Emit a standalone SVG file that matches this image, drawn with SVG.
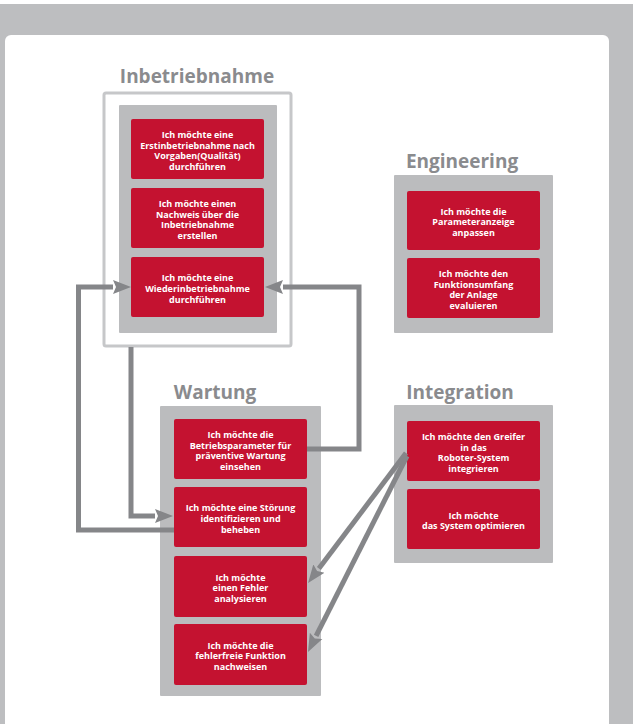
<svg xmlns="http://www.w3.org/2000/svg" width="633" height="724" viewBox="0 0 633 724">
<style>
.title{font-family:"Open Sans","Noto Sans","Liberation Sans",sans-serif;font-weight:bold;font-size:19px;fill:#8a8b8e;text-anchor:middle}
.lbl{font-family:"Open Sans","Noto Sans","Liberation Sans",sans-serif;font-weight:bold;font-size:9px;fill:#ffffff;text-anchor:middle}
.grp{fill:#bbbcbe}
.node{fill:#c41230;rx:2}
.conn{fill:none;stroke:#858689;stroke-width:5;stroke-linejoin:miter}
</style>
<defs>
<marker id="ah" markerUnits="userSpaceOnUse" markerWidth="19" markerHeight="15" refX="0" refY="7" orient="auto" viewBox="0 0 19 14">
<path d="M0,0 L18,7 L0,14 L3,7 z" fill="#858689"/>
</marker>
</defs>
<rect x="0" y="0" width="633" height="724" fill="#ffffff"/>
<rect x="0" y="4" width="633" height="720" fill="#bdbec0"/>
<rect x="5" y="35" width="604" height="700" rx="6" fill="#ffffff"/>

<g id="inbetriebnahme">
<text class="title" x="197" y="83">Inbetriebnahme</text>
<rect x="104" y="93" width="187" height="253" rx="2" fill="#ffffff" stroke="#c6c7c9" stroke-width="3"/>
<rect class="grp" x="119" y="105" width="158" height="228" rx="1"/>
</g>
<g id="inb1">
<rect class="node" x="131" y="119" width="133" height="60"/>
<text class="lbl"><tspan x="197.5" y="137.8">Ich möchte eine</tspan><tspan x="197.5" y="148.5">Erstinbetriebnahme nach</tspan><tspan x="197.5" y="159.2">Vorgaben(Qualität)</tspan><tspan x="197.5" y="169.9">durchführen</tspan></text>
</g>
<g id="inb2">
<rect class="node" x="131" y="188" width="133" height="60"/>
<text class="lbl"><tspan x="197.5" y="206.8">Ich möchte einen</tspan><tspan x="197.5" y="217.5">Nachweis über die</tspan><tspan x="197.5" y="228.2">Inbetriebnahme</tspan><tspan x="197.5" y="238.9">erstellen</tspan></text>
</g>
<g id="inb3">
<rect class="node" x="131" y="257" width="133" height="60"/>
<text class="lbl"><tspan x="197.5" y="281.1">Ich möchte eine</tspan><tspan x="197.5" y="291.8">Wiederinbetriebnahme</tspan><tspan x="197.5" y="302.5">durchführen</tspan></text>
</g>

<g id="engineering">
<text class="title" x="462" y="168">Engineering</text>
<rect class="grp" x="394" y="175" width="159" height="158" rx="1"/>
</g>
<g id="eng1">
<rect class="node" x="407" y="191" width="133" height="59"/>
<text class="lbl"><tspan x="473.5" y="214.6">Ich möchte die</tspan><tspan x="473.5" y="225.3">Parameteranzeige</tspan><tspan x="473.5" y="236">anpassen</tspan></text>
</g>
<g id="eng2">
<rect class="node" x="407" y="258" width="133" height="60"/>
<text class="lbl"><tspan x="473.5" y="276.8">Ich möchte den</tspan><tspan x="473.5" y="287.5">Funktionsumfang</tspan><tspan x="473.5" y="298.2">der Anlage</tspan><tspan x="473.5" y="308.9">evaluieren</tspan></text>
</g>

<g id="wartung">
<text class="title" x="215" y="399">Wartung</text>
<rect class="grp" x="160" y="406" width="161" height="290" rx="1"/>
</g>
<g id="w1">
<rect class="node" x="174" y="419" width="133" height="60"/>
<text class="lbl"><tspan x="240.5" y="437.8">Ich möchte die</tspan><tspan x="240.5" y="448.5">Betriebsparameter für</tspan><tspan x="240.5" y="459.2">präventive Wartung</tspan><tspan x="240.5" y="469.9">einsehen</tspan></text>
</g>
<g id="w2">
<rect class="node" x="174" y="487" width="133" height="60"/>
<text class="lbl"><tspan x="240.5" y="511.1">Ich möchte eine Störung</tspan><tspan x="240.5" y="521.8">identifizieren und</tspan><tspan x="240.5" y="532.5">beheben</tspan></text>
</g>
<g id="w3">
<rect class="node" x="174" y="556" width="133" height="61"/>
<text class="lbl"><tspan x="240.5" y="580.6">Ich möchte</tspan><tspan x="240.5" y="591.3">einen Fehler</tspan><tspan x="240.5" y="602">analysieren</tspan></text>
</g>
<g id="w4">
<rect class="node" x="174" y="624" width="133" height="61"/>
<text class="lbl"><tspan x="240.5" y="648.6">Ich möchte die</tspan><tspan x="240.5" y="659.3">fehlerfreie Funktion</tspan><tspan x="240.5" y="670">nachweisen</tspan></text>
</g>

<g id="integration">
<text class="title" x="460" y="399">Integration</text>
<rect class="grp" x="394" y="405" width="159" height="158" rx="1"/>
</g>
<g id="i1">
<rect class="node" x="407" y="421" width="133" height="60"/>
<text class="lbl"><tspan x="473.5" y="439.8">Ich möchte den Greifer</tspan><tspan x="473.5" y="450.5">in das</tspan><tspan x="473.5" y="461.2">Roboter-System</tspan><tspan x="473.5" y="471.9">integrieren</tspan></text>
</g>
<g id="i2">
<rect class="node" x="407" y="489" width="133" height="60"/>
<text class="lbl"><tspan x="473.5" y="518.5">Ich möchte</tspan><tspan x="473.5" y="529.2">das System optimieren</tspan></text>
</g>

<g id="connectors">
<path class="conn" d="M131,347 V516 H155" marker-end="url(#ah)"/>
<path class="conn" d="M174,530 H78.5 V287 H113" marker-end="url(#ah)"/>
<path class="conn" d="M307,449 H359 V287 H283" marker-end="url(#ah)"/>
<path class="conn" d="M406,453 L318.9,568.6" marker-end="url(#ah)"/>
<path class="conn" d="M407,456 L316.1,635.9" marker-end="url(#ah)"/>
</g>
</svg>
